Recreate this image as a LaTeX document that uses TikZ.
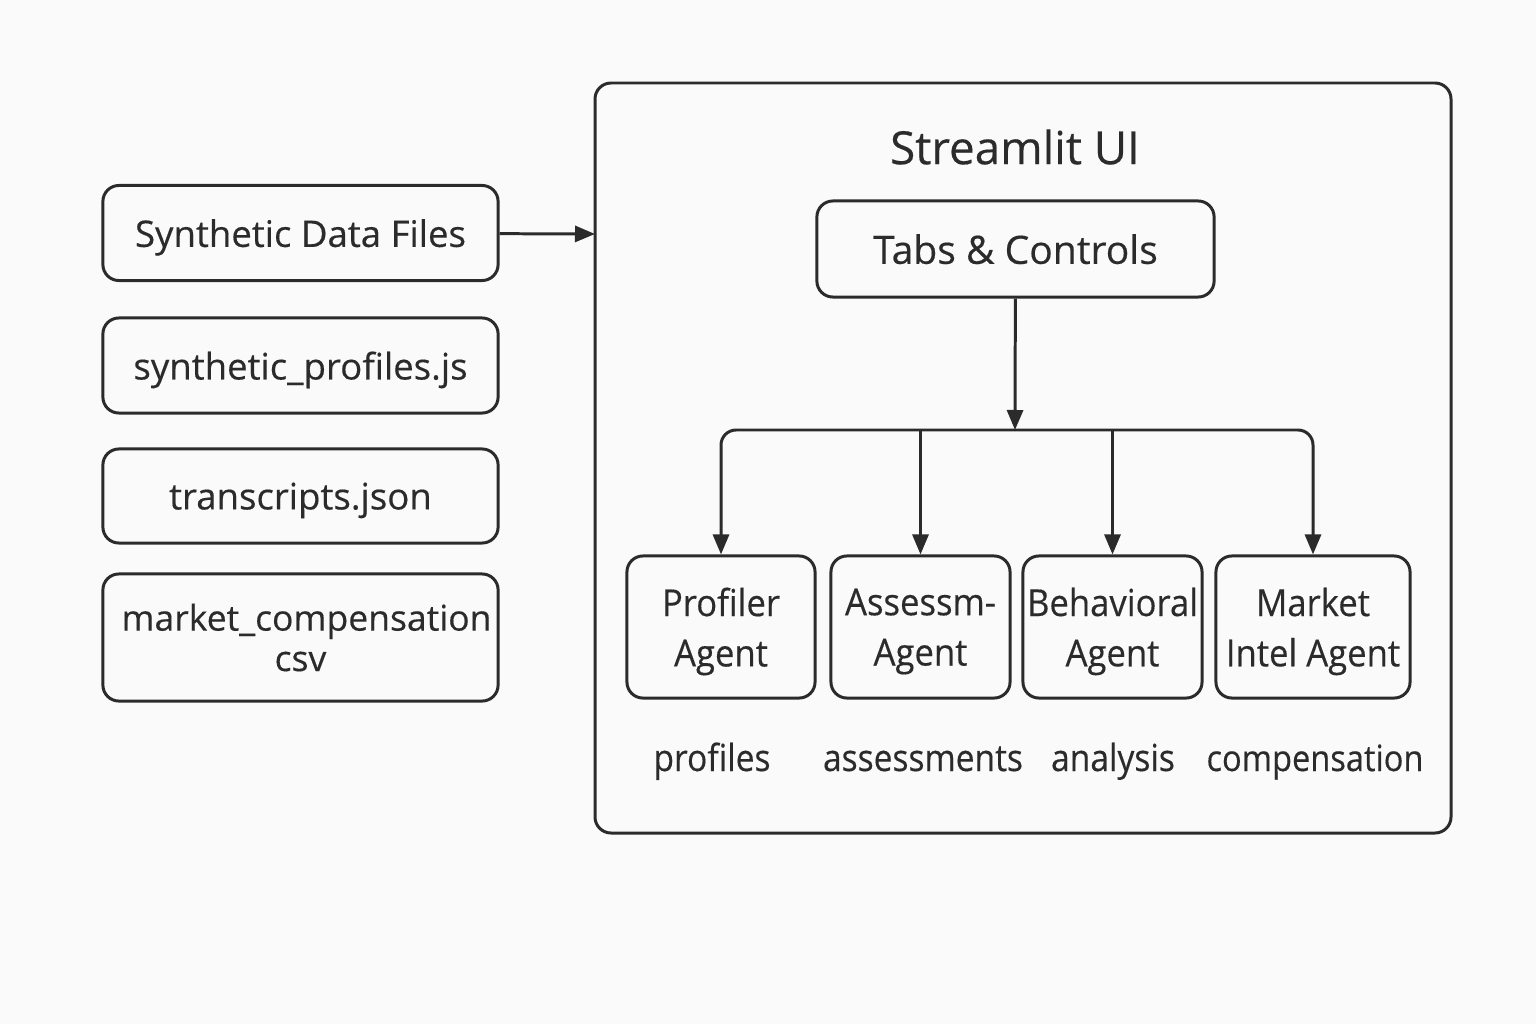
\documentclass[tikz,border=0pt]{standalone}
\usepackage{fontspec}
\setmainfont{Open Sans}[FakeBold=0.35]
\newfontfamily\narrowfont{Open Sans}[FakeStretch=0.93,FakeBold=0.35]
\newfontfamily\labelfont{Open Sans}[FakeStretch=0.9,FakeBold=0.35]
\usetikzlibrary{arrows.meta,positioning}
\definecolor{ink}{HTML}{2B2B2B}
\definecolor{paper}{HTML}{FAFAFA}
\tikzset{
	filebox/.style={draw=ink,line width=0.85pt,rounded corners=0.16cm,minimum width=3.95cm,align=center,text=ink},
	agentbox/.style={draw=ink,line width=0.85pt,rounded corners=0.16cm,minimum height=1.42cm,align=center,text=ink,text depth=-0.06cm,font=\narrowfont\fontsize{10.6}{14.3}\selectfont},
	flow/.style={draw=ink,line width=0.85pt,-{Triangle[length=0.2cm,width=0.16cm]}},
}
\begin{document}
\begin{tikzpicture}[
		x={(0.01cm,0cm)},
		y={(0cm,-0.01cm)},
	]
		\fill[paper] (0,0) rectangle (1536,1024);
		\useasboundingbox (0,0) rectangle (1536,1024);
		
		% outer frame
		\draw[ink,line width=0.85pt,rounded corners=0.16cm] (595,83) rectangle (1451,833);
		\node[text=ink,font=\fontsize{13}{16}\selectfont] (title) at (1015,147) {Streamlit UI};
		\coordinate (uileft) at (595,234);
		
		% input files
		\node[filebox,minimum height=0.95cm,text depth=0pt,font=\fontsize{10.4}{13}\selectfont] (synth) at (300.5,233) {Synthetic Data Files};
		\node[filebox,minimum height=0.95cm,text depth=0pt,font=\fontsize{10.4}{13}\selectfont] (profiles) at (300.5,365.5) {synthetic\_profiles.js};
		\node[filebox,minimum height=0.94cm,text depth=0pt,font=\fontsize{10.4}{13}\selectfont] (transcripts) at (300.5,496) {transcripts.json};
		\node[filebox,minimum height=1.27cm,inner xsep=0pt,font=\fontsize{10.1}{11.5}\selectfont] (market) at (300.5,637.5) {\hspace*{0.12cm}market\_compensation\\csv};
		\draw[flow] (synth) -- (uileft);
		
		% controls
		\node[draw=ink,line width=0.85pt,rounded corners=0.16cm,minimum width=3.97cm,minimum height=0.96cm,text=ink,text depth=0pt,font=\fontsize{11.1}{14}\selectfont] (tabs) at (1015.5,249) {Tabs \& Controls};
		\coordinate (bus) at (1015,430);
		\draw[flow] (tabs) -- (bus);
		
		% agents
		\foreach \n/\x/\w/\t in {prof/721/1.88/Profiler\\Agent, assess/920.5/1.79/Assessm-\\Agent, behav/1112.5/1.79/Behavioral\\Agent, mkt/1313/1.94/Market\\Intel Agent}{
			\node[agentbox,minimum width=\w cm,inner xsep=0pt] (\n) at (\x,627) {\t};
		}
		\draw[flow,rounded corners=0.15cm] (bus) -| (prof.north);
		\draw[flow,rounded corners=0.15cm] (bus) -| (mkt.north);
		\draw[flow] (assess.north |- bus) -- (assess.north);
		\draw[flow] (behav.north |- bus) -- (behav.north);
		
		% outputs
		\foreach \n/\x/\t/\s in {outprof/712/profiles/10.6, outassess/923/assessments/10.6, outbehav/1113/analysis/10.6, outmkt/1315/compensation/10.3}{
			\node[anchor=base,text=ink,font=\labelfont\fontsize{\s}{13}\selectfont] (\n) at (\x,771) {\t};
		}
	\end{tikzpicture}
\end{document}
